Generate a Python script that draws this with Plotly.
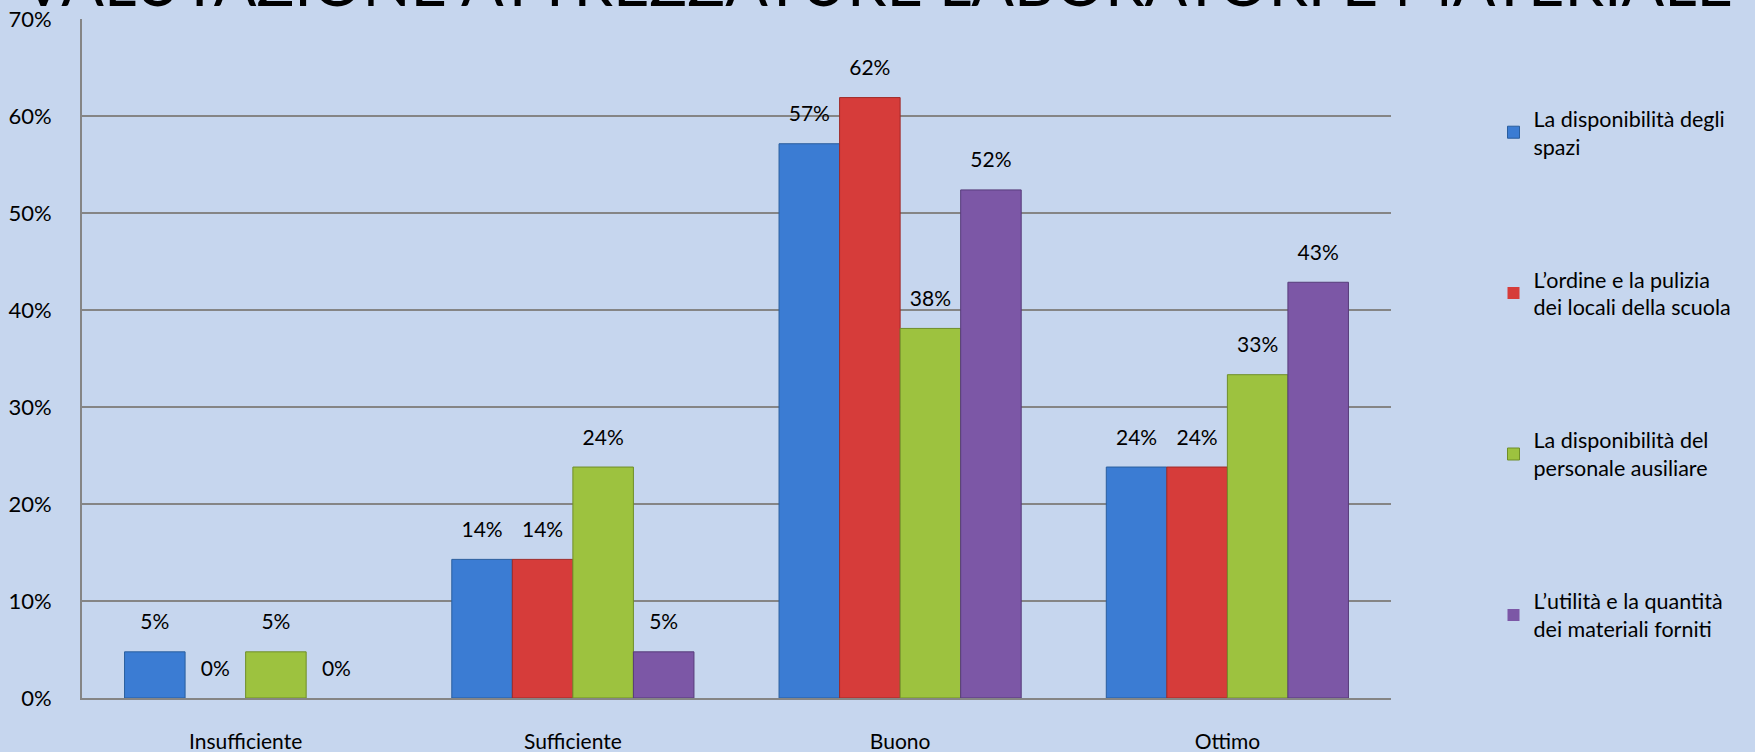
import plotly.graph_objects as go

categories = ["Insufficiente", "Sufficiente", "Buono", "Ottimo"]
series_names = [
    "La disponibilità degli<br>spazi",
    "L’ordine e la pulizia<br>dei locali della scuola",
    "La disponibilità del<br>personale ausiliare",
    "L’utilità e la quantità<br>dei materiali forniti",
]
spazi = [4.76, 14.29, 57.14, 23.81]
pulizia = [0.0, 14.29, 61.90, 23.81]
personale = [4.76, 23.81, 38.10, 33.33]
materiali = [0.0, 4.76, 52.38, 42.86]
colors = ["#3B7CD3", "#D63C3A", "#9DC23F", "#7C57A6"]
edge_colors = ["#2A5E9E", "#A02A28", "#6F8E28", "#573C7A"]
title_text = "VALUTAZIONE ATTREZZATURE LABORATORI E MATERIALE"

font_family = "Lato, 'Open Sans', sans-serif"

all_series = [spazi, pulizia, personale, materiali]

W, H = 1755, 752
M = dict(l=82, r=364, t=19, b=54)

fig = go.Figure()
for i, (name, vals) in enumerate(zip(series_names, all_series)):
    fig.add_trace(go.Bar(
        x=categories,
        y=vals,
        name=name,
        legendgroup=f"g{i}",
        marker=dict(color=colors[i],
                    line=dict(color=edge_colors[i], width=[1 if v > 0 else 0 for v in vals])),
    ))

# data labels, grouped next to one another like the bars
for i, vals in enumerate(all_series):
    fig.add_trace(go.Scatter(
        x=categories,
        y=vals,
        mode="markers+text",
        text=[f"{v:.0f}%" for v in vals],
        textposition="top center",
        textfont=dict(family=font_family, size=21, color="#000000"),
        marker=dict(size=26, color="rgba(0,0,0,0)"),
        showlegend=False,
        hoverinfo="skip",
        cliponaxis=False,
    ))

# title centred on the page, partly above the top edge as in the original
fig.add_annotation(
    text=title_text,
    xref="paper", yref="paper",
    x=(W / 2 - M["l"]) / (W - M["l"] - M["r"]), xanchor="center",
    y=0.997, yanchor="bottom",
    showarrow=False,
    font=dict(family=font_family, size=63, color="#000000"),
)

fig.update_layout(
    width=W,
    height=H,
    barmode="group",
    bargap=0.26,
    bargroupgap=0,
    scattermode="group",
    scattergap=0.26,
    paper_bgcolor="#C6D6EE",
    plot_bgcolor="#C6D6EE",
    margin=dict(**M, autoexpand=False),
    font=dict(family=font_family, color="#000000"),
    legend=dict(
        xref="container", yref="container",
        x=0.851, xanchor="left",
        y=0.87, yanchor="top",
        maxheight=1,
        traceorder="grouped",
        tracegroupgap=102,
        font=dict(family=font_family, size=21.5, color="#000000"),
        bgcolor="rgba(0,0,0,0)",
    ),
    showlegend=True,
)

fig.update_yaxes(
    range=[0, 70],
    dtick=10,
    ticksuffix="%",
    showgrid=True,
    gridcolor="#858585",
    gridwidth=2,
    zeroline=False,
    showline=True,
    linecolor="#858585",
    linewidth=2,
    ticks="outside",
    ticklen=24,
    tickcolor="rgba(0,0,0,0)",
    tickfont=dict(family=font_family, size=22, color="#000000"),
    automargin=False,
)
fig.update_xaxes(
    showgrid=False,
    showline=True,
    linecolor="#858585",
    linewidth=2,
    ticks="outside",
    ticklen=24,
    tickcolor="rgba(0,0,0,0)",
    tickfont=dict(family=font_family, size=21, color="#000000"),
    automargin=False,
)

fig.write_html(
    "out.html",
    config={"displayModeBar": False},
    post_script="document.body.style.margin='0';document.body.style.overflow='hidden';",
)
